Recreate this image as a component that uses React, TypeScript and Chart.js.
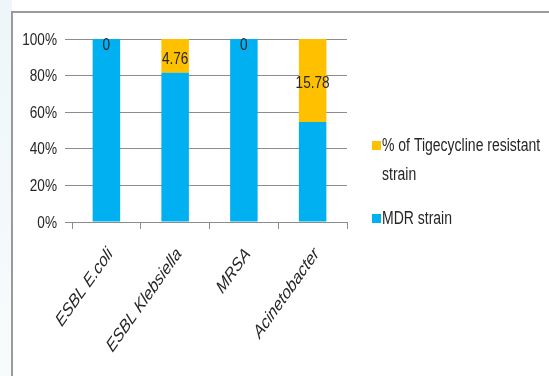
import React, { useEffect, useRef } from "react";
import { Chart, registerables } from "chart.js";

Chart.register(...registerables);

const categories = ["ESBL E.coli", "ESBL Klebsiella", "MRSA", "Acinetobacter"];
const mdrShare = [100, 81.5, 100, 54.6];
const tigecyclineShare = [0, 18.5, 0, 45.4];
const tigecyclineLabels = ["0", "4.76", "0", "15.78"];
const yTicks = [0, 20, 40, 60, 80, 100];
const seriesNames = ["MDR strain", "% of Tigecycline resistant strain"];

const BLUE = "#00B0F0";
const ORANGE = "#FFC000";
const FONT = '"Liberation Sans", Arial, sans-serif';
const TEXT = "#262626";
const GRID = "#8c8c8c";
const SX = 0.8; // horizontal text compression
const FS = 17;

function drawText(
  ctx: CanvasRenderingContext2D,
  text: string,
  x: number,
  y: number,
  align: CanvasTextAlign,
  baseline: CanvasTextBaseline,
  angleDeg = 0,
  italic = false,
  size = FS
) {
  ctx.save();
  ctx.font = `${italic ? "italic " : ""}${size}px ${FONT}`;
  ctx.fillStyle = TEXT;
  ctx.textAlign = align;
  ctx.textBaseline = baseline;
  ctx.translate(x, y);
  ctx.scale(SX, 1);
  if (angleDeg) ctx.rotate((angleDeg * Math.PI) / 180);
  ctx.fillText(text, 0, 0);
  ctx.restore();
}

const textPlugin = {
  id: "allText",
  afterDraw(chart: any) {
    const ctx = chart.ctx;
    const ys = chart.scales.y;
    const xs = chart.scales.x;
    // y tick labels
    yTicks.forEach((v) => {
      drawText(ctx, `${v}%`, ys.right - 15, ys.getPixelForValue(v) + 1, "right", "middle");
    });
    // x tick labels (rotated)
    categories.forEach((c, i) => {
      const px = xs.getPixelForValue(i);
      drawText(ctx, c, px + 4, xs.top + 29, "right", "middle", -48.5, true, 18.5);
    });
    // value labels on the tigecycline segments
    const meta = chart.getDatasetMeta(1);
    meta.data.forEach((bar: any, i: number) => {
      const top = Math.min(bar.y, bar.base);
      const bottom = Math.max(bar.y, bar.base);
      let y = (top + bottom) / 2 + 3;
      if (y < top + 6) y = top + 6;
      drawText(ctx, tigecyclineLabels[i], bar.x, y, "center", "middle");
    });
    // legend at the right
    const lx = 372;
    const items = [
      { color: ORANGE, lines: ["% of Tigecycline resistant", "strain"], y: 146 },
      { color: BLUE, lines: ["MDR strain"], y: 219 },
    ];
    items.forEach((it) => {
      ctx.save();
      ctx.fillStyle = it.color;
      ctx.fillRect(lx, it.y - 5, 9, 9);
      ctx.restore();
      it.lines.forEach((ln, k) => {
        drawText(ctx, ln, lx + 10, it.y + k * 29, "left", "middle", 0, false, 17.5);
      });
    });
  },
};

export default function App() {
  const ref = useRef<HTMLCanvasElement>(null);
  useEffect(() => {
    if (!ref.current) return;
    const chart = new Chart(ref.current, {
      type: "bar",
      data: {
        labels: categories,
        datasets: [
          {
            label: seriesNames[0],
            data: mdrShare,
            backgroundColor: BLUE,
            borderWidth: 0,
            barPercentage: 0.4,
            categoryPercentage: 1,
          },
          {
            label: seriesNames[1],
            data: tigecyclineShare,
            backgroundColor: ORANGE,
            borderWidth: 0,
            barPercentage: 0.4,
            categoryPercentage: 1,
          },
        ],
      },
      options: {
        responsive: false,
        animation: false,
        layout: { padding: { left: 0, top: 39, right: 202, bottom: 0 } },
        plugins: {
          legend: { display: false },
          tooltip: { enabled: false },
        },
        scales: {
          x: {
            stacked: true,
            grid: {
              offset: true,
              drawOnChartArea: false,
              drawTicks: true,
              tickLength: 7,
              color: GRID,
            },
            border: { color: GRID, width: 1 },
            ticks: { display: false },
            afterFit(scale: any) {
              scale.height = 376 - 222;
              scale.paddingLeft = 0;
              scale.paddingRight = 0;
            },
          },
          y: {
            stacked: true,
            min: 0,
            max: 100,
            afterBuildTicks(scale: any) {
              scale.ticks = yTicks.map((v) => ({ value: v }));
            },
            grid: {
              color: GRID,
              drawTicks: true,
              tickLength: 7,
            },
            border: { display: false },
            ticks: { display: false },
            afterFit(scale: any) {
              scale.width = 72;
              scale.paddingTop = 0;
              scale.paddingBottom = 0;
            },
          },
        },
      },
      plugins: [textPlugin],
    });
    return () => chart.destroy();
  }, []);

  return (
    <div
      style={{
        position: "fixed",
        left: 0,
        top: 0,
        width: 549,
        height: 376,
        background: "#ffffff",
        overflow: "hidden",
      }}
    >
      <div
        style={{
          position: "absolute",
          left: 0,
          top: 0,
          width: 12,
          height: 376,
          background: "linear-gradient(#eef6f9, #f7fbfc)",
        }}
      />
      <div
        style={{
          position: "absolute",
          left: 11,
          top: 11,
          width: 560,
          height: 400,
          border: "2px solid #9a9a9a",
          boxSizing: "border-box",
          background: "#ffffff",
        }}
      />
      <canvas
        ref={ref}
        width={549}
        height={376}
        style={{ position: "absolute", left: 0, top: 0 }}
      />
    </div>
  );
}
